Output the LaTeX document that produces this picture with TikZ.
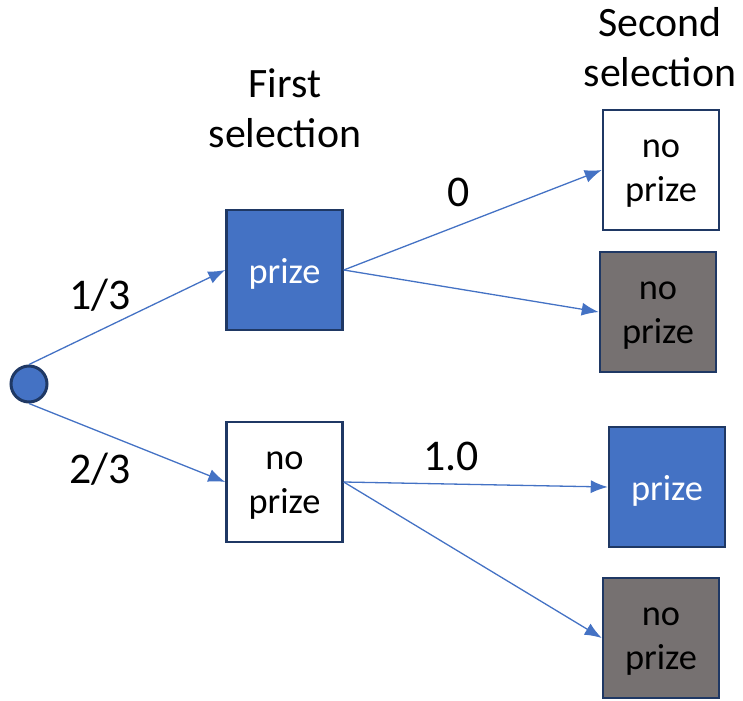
\documentclass[tikz,border=0pt]{standalone}
\usepackage{fontspec}
\setmainfont{Carlito}
\usetikzlibrary{arrows.meta}
\definecolor{bluefill}{HTML}{4472C4}
\definecolor{navy}{HTML}{1F3864}
\definecolor{grayfill}{HTML}{767171}
\begin{document}
\begin{tikzpicture}[x=1bp,y=-1bp,
  box/.style={draw=navy,line width=2.5bp,minimum width=116bp,minimum height=120bp,inner sep=0pt},
  boxtext/.style={align=center,yshift=-4bp,font=\fontsize{36.5}{44}\selectfont},
  prizebox/.style={box,fill=bluefill,label={[boxtext,text=white]center:#1}},
  noprize/.style={box,fill=white,label={[boxtext,text=black]center:#1}},
  graybox/.style={box,fill=grayfill,label={[boxtext,text=black]center:#1}},
  conn/.style={draw=bluefill,line width=1.3bp,-{Latex[length=17bp,width=13bp]}},
  lbl/.style={font=\fontsize{44}{50}\selectfont},
  head/.style={align=center,font=\fontsize{42}{50}\selectfont}]
\useasboundingbox (0,0) rectangle (743,701);
\node[circle,draw=navy,line width=3bp,fill=bluefill,minimum size=36bp,inner sep=0pt] (root) at (29,384) {};
\node[prizebox={prize}] (p1) at (284.5,270) {};
\node[noprize={no\\prize}] (n1) at (284.5,482) {};
\node[noprize={no\\prize}] (a1) at (661,170) {};
\node[graybox={no\\prize}] (a2) at (658,312) {};
\node[prizebox={prize}] (b1) at (667,487) {};
\node[graybox={no\\prize}] (b2) at (661,638) {};
\draw[conn] (root.north) -- (p1.west);
\draw[conn] (root.south) -- (n1.west);
\draw[conn] (p1.east) -- (a1.west);
\draw[conn] (p1.east) -- (a2.west);
\draw[conn] (n1.east) -- (b1.west);
\draw[conn] (n1.east) -- (b2.west);
\node[lbl] (l13) at (100,295) {1/3};
\node[lbl] (l23) at (100,469) {2/3};
\node[lbl] (l0) at (459,192) {0};
\node[lbl] (l10) at (451,456) {1.0};
\node[head] (h1) at (285,108) {First\\selection};
\node[head] (h2) at (660,47) {Second\\selection};
\end{tikzpicture}
\end{document}
